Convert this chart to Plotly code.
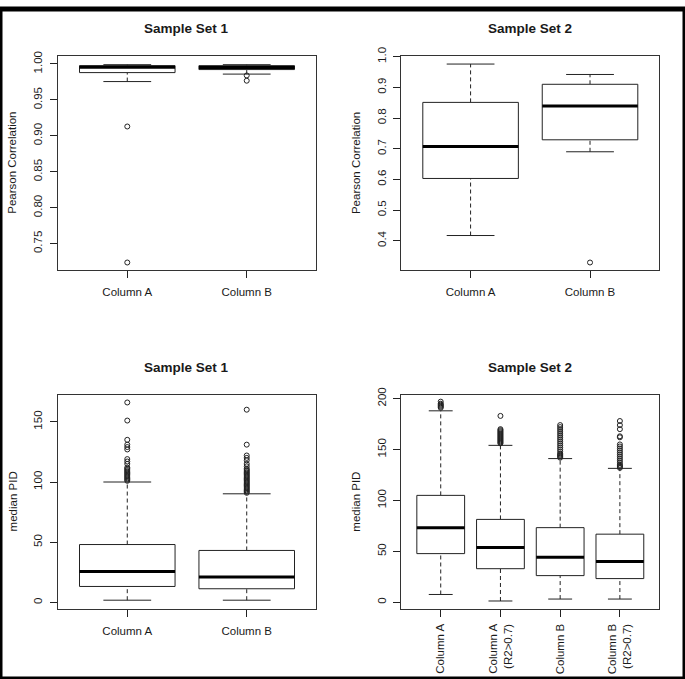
import plotly.graph_objects as go

# ---------------- data ----------------
tl_cats = ["Column A", "Column B"]
tl_q1 = [0.9880, 0.9922]
tl_med = [0.9955, 0.9950]
tl_q3 = [0.9977, 0.9977]
tl_lo = [0.9755, 0.9859]
tl_hi = [0.9990, 0.9990]
tl_out = [[0.913, 0.7237], [0.9840, 0.9767]]

tr_cats = ["Column A", "Column B"]
tr_q1 = [0.603, 0.729]
tr_med = [0.707, 0.839]
tr_q3 = [0.851, 0.910]
tr_lo = [0.417, 0.690]
tr_hi = [0.976, 0.942]
tr_out = [[], [0.329]]

bl_cats = ["Column A", "Column B"]
bl_q1 = [13.3, 11.4]
bl_med = [25.8, 21.2]
bl_q3 = [48.1, 43.2]
bl_lo = [1.9, 1.9]
bl_hi = [100.0, 90.2]
bl_out = [
    [166, 151, 135, 131, 129, 127, 119, 117, 115, 112, 111, 110, 109, 108,
     107, 106, 105, 104, 103, 102, 101],
    [160, 131, 122, 120, 118, 115, 113, 111, 110, 109, 108, 107, 106, 105,
     104, 103, 102, 101, 100, 99, 98, 97, 96, 95, 94, 93, 92, 91],
]

br_cats = ["Column A", "Column A<br>(R2>0.7)", "Column B", "Column B<br>(R2>0.7)"]
br_q1 = [47.8, 33.0, 26.2, 23.3]
br_med = [73.3, 53.9, 44.2, 40.0]
br_q3 = [105.0, 81.4, 73.3, 66.9]
br_lo = [7.7, 1.3, 3.2, 3.2]
br_hi = [188.0, 154.1, 141.1, 131.5]
br_out = [
    [197, 195, 194, 193, 192, 191],
    [183, 170, 169, 168, 167, 166, 165, 164, 163, 162, 161, 160, 159, 158, 157, 156],
    [174, 172, 170, 168, 166, 164, 162, 160, 158, 156, 154, 152, 150, 148, 146,
     145, 144, 143, 142],
    [178, 174, 170, 163, 162, 155, 153, 151, 149, 147, 145, 143, 141, 139, 137,
     135, 134, 133, 132],
]

titles = ["Sample Set 1", "Sample Set 2", "Sample Set 1", "Sample Set 2"]
ytitles = ["Pearson Correlation", "Pearson Correlation", "median PID", "median PID"]

# ---------------- style ----------------
FONT = "Liberation Sans, Arial, Helvetica, sans-serif"
INK = "#1a1a1a"
LINE = "#222222"
W, H = 685, 679

fig = go.Figure()

def add_panel(k, cats, q1, med, q3, lo, hi, outs):
    xa = "x" if k == 0 else f"x{k+1}"
    ya = "y" if k == 0 else f"y{k+1}"
    bx, by, mx, my, wx, wy, cx, cy, ox, oy = [], [], [], [], [], [], [], [], [], []
    for i in range(len(cats)):
        p = i + 1
        bx += [p - 0.4, p + 0.4, p + 0.4, p - 0.4, p - 0.4, None]
        by += [q1[i], q1[i], q3[i], q3[i], q1[i], None]
        mx += [p - 0.4, p + 0.4, None]
        my += [med[i], med[i], None]
        wx += [p, p, None, p, p, None]
        wy += [lo[i], q1[i], None, q3[i], hi[i], None]
        cx += [p - 0.2, p + 0.2, None, p - 0.2, p + 0.2, None]
        cy += [lo[i], lo[i], None, hi[i], hi[i], None]
        for v in outs[i]:
            ox.append(p)
            oy.append(v)
    common = dict(xaxis=xa, yaxis=ya, showlegend=False, hoverinfo="skip")
    fig.add_trace(go.Scatter(x=wx, y=wy, mode="lines",
                             line=dict(color=LINE, width=1, dash="4px,3px"), **common))
    fig.add_trace(go.Scatter(x=cx, y=cy, mode="lines",
                             line=dict(color=LINE, width=1), **common))
    fig.add_trace(go.Scatter(x=bx, y=by, mode="lines", fill="toself",
                             fillcolor="white",
                             line=dict(color=LINE, width=1), **common))
    fig.add_trace(go.Scatter(x=mx, y=my, mode="lines",
                             line=dict(color="black", width=3), **common))
    fig.add_trace(go.Scatter(x=ox, y=oy, mode="markers",
                             marker=dict(symbol="circle-open", size=5,
                                         color=LINE, line=dict(width=1)), **common))

panels = [
    (tl_cats, tl_q1, tl_med, tl_q3, tl_lo, tl_hi, tl_out),
    (tr_cats, tr_q1, tr_med, tr_q3, tr_lo, tr_hi, tr_out),
    (bl_cats, bl_q1, bl_med, bl_q3, bl_lo, bl_hi, bl_out),
    (br_cats, br_q1, br_med, br_q3, br_lo, br_hi, br_out),
]
for k, p in enumerate(panels):
    add_panel(k, *p)

# panel geometry in pixels (left, right, top, bottom)
geo = [
    (58, 316, 47.7, 265),
    (401.3, 659.3, 47.7, 265),
    (58, 316, 390.7, 608.3),
    (401.3, 659.3, 390.7, 608.3),
]
yranges = [[0.7126, 1.011], [0.303, 1.002], [-5.6, 172.6], [-6.8, 204.0]]
ydticks = [(0.75, 0.05, ".2f"), (0.4, 0.1, ".1f"), (0, 50, "d"), (0, 50, "d")]

layout = dict(
    width=W, height=H,
    margin=dict(l=0, r=0, t=0, b=0),
    paper_bgcolor="white", plot_bgcolor="white",
    font=dict(family=FONT, size=11.5, color=INK),
)
annotations = []
for k in range(4):
    l, r, t, b = geo[k]
    cats = panels[k][0]
    n = len(cats)
    ext = n * 0.04
    xs = "xaxis" if k == 0 else f"xaxis{k+1}"
    ys = "yaxis" if k == 0 else f"yaxis{k+1}"
    ya = "y" if k == 0 else f"y{k+1}"
    xa = "x" if k == 0 else f"x{k+1}"
    layout[xs] = dict(
        domain=[l / W, r / W], anchor=ya,
        range=[0.5 - ext, n + 0.5 + ext],
        tickmode="array", tickvals=list(range(1, n + 1)), ticktext=cats,
        tickangle=-90 if k == 3 else 0,
        ticks="outside", ticklen=7, tickcolor=LINE, tickwidth=1,
        showline=True, linecolor="#333333", linewidth=1, mirror=True,
        showgrid=False, zeroline=False, fixedrange=True,
        ticklabelstandoff=4 if k != 3 else 2,
    )
    t0, dt, fmt = ydticks[k]
    layout[ys] = dict(
        domain=[1 - b / H, 1 - t / H], anchor=xa,
        range=yranges[k],
        tick0=t0, dtick=dt, tickformat=fmt, tickangle=-90,
        ticks="outside", ticklen=7, tickcolor=LINE, tickwidth=1,
        showline=True, linecolor="#333333", linewidth=1, mirror=True,
        showgrid=False, zeroline=False, fixedrange=True,
        ticklabelstandoff=3,
    )
    # title
    annotations.append(dict(
        text=f"<b>{titles[k]}</b>", xref="paper", yref="paper",
        x=(l + r) / 2 / W, y=1 - (t - 27.5) / H,
        xanchor="center", yanchor="middle", showarrow=False,
        font=dict(family=FONT, size=13.5, color=INK),
    ))
    # y-axis title
    annotations.append(dict(
        text=ytitles[k], xref="paper", yref="paper",
        x=(l - 45.5) / W, y=1 - (t + b) / 2 / H,
        xanchor="center", yanchor="middle", showarrow=False, textangle=-90,
        font=dict(family=FONT, size=11.5, color=INK),
    ))

layout["annotations"] = annotations
layout["shapes"] = [dict(type="rect", xref="paper", yref="paper",
                         x0=0, x1=1, y0=0, y1=1,
                         line=dict(color="black", width=5))]
fig.update_layout(**layout)

post = ("document.documentElement.style.margin='0';"
        "document.body.style.margin='0';document.body.style.padding='0';"
        "document.body.style.overflow='hidden';"
        "var gd=document.getElementById('{plot_id}');"
        "gd.style.position='fixed';gd.style.left='0px';gd.style.top='0px';")
fig.write_html("out.html", post_script=post, config={"displayModeBar": False})
